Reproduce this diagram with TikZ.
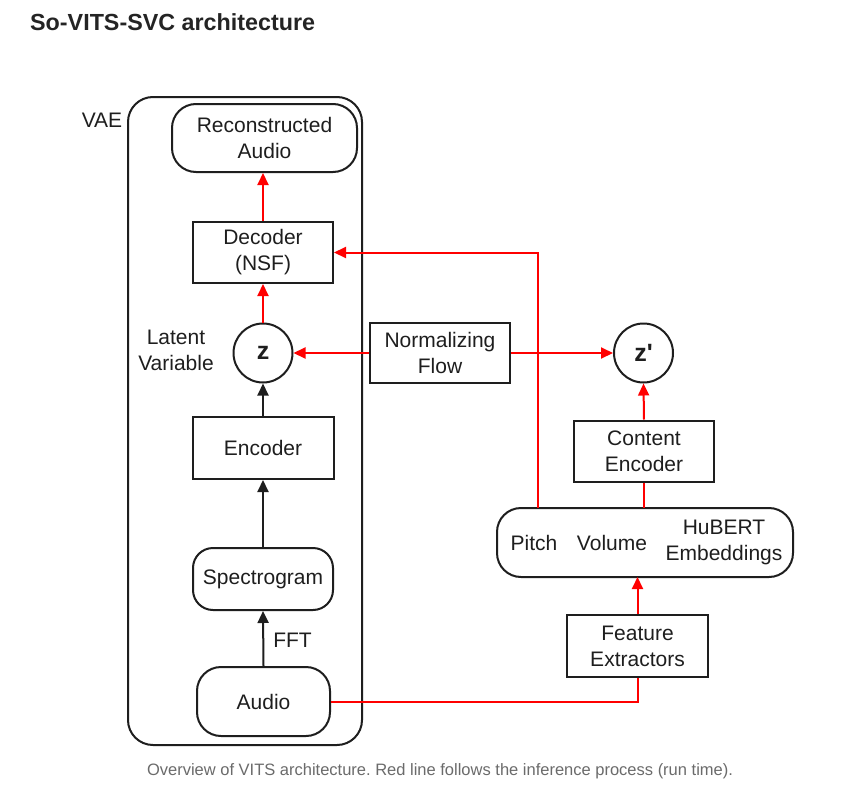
\documentclass[tikz,border=0pt]{standalone}
\usepackage{fontspec}
\setmainfont{Liberation Sans}
\usetikzlibrary{arrows.meta,positioning}
\definecolor{infred}{RGB}{255,0,0}
\definecolor{ink}{RGB}{30,30,30}
\definecolor{capgray}{RGB}{107,107,107}
\definecolor{titleink}{RGB}{36,36,36}
\frenchspacing
\begin{document}
\begin{tikzpicture}[x=1pt,y=-1pt,
  lbl/.style={font=\fontsize{21}{26}\selectfont, text=ink, align=center},
  sqbox/.style={lbl, draw=ink, line width=2pt, rectangle, inner sep=0pt},
  rbox/.style={lbl, draw=ink, line width=2pt, rectangle, rounded corners=24pt, inner sep=0pt},
  cnode/.style={lbl, draw=ink, line width=2pt, circle, minimum size=59pt, inner sep=0pt, font=\fontsize{25}{26}\selectfont\bfseries},
  redarrow/.style={draw=infred, line width=2pt, -{Triangle[length=12pt,width=11pt]}},
  redpath/.style={draw=infred, line width=2pt},
  blackarrow/.style={draw=ink, line width=2pt, -{Triangle[length=12pt,width=11pt]}},
  plain/.style={lbl, inner sep=0pt}
]
\useasboundingbox (0,0) rectangle (844,798);
\fill[white] (0,0) rectangle (844,798);

% title
\node[anchor=west, inner sep=0pt, text=titleink, font=\fontsize{23.3}{26}\selectfont\bfseries] (title) at (30,22) {So-VITS-SVC architecture};

% VAE container
\draw[draw=ink, line width=2pt, rounded corners=25pt] (128,97) rectangle (362,745);
\node[plain] (vae) at (102,120) {VAE};

% left column
\node[rbox, minimum width=185pt, minimum height=68pt] (recon) at (264.5,138) {Reconstructed\\Audio};
\node[sqbox, minimum width=140pt, minimum height=61pt] (dec) at (263,252.5) {Decoder\\(NSF)};
\node[cnode] (z) at (263,353) {z};
\node[plain] (latent) at (176,350) {Latent\\Variable};
\node[sqbox, minimum width=141pt, minimum height=62pt] (enc) at (263,448) {Encoder};
\node[rbox, rounded corners=20pt, minimum width=140pt, minimum height=62pt] (spec) at (263,579) {Spectrogram};
\node[rbox, minimum width=133pt, minimum height=69pt] (audio) at (263.5,701.5) {Audio};

% middle / right
\node[sqbox, minimum width=140pt, minimum height=60pt] (nf) at (440,353) {Normalizing\\Flow};
\node[cnode] (zp) at (643.5,353) {z\textquotesingle};
\node[sqbox, minimum width=140pt, minimum height=61pt] (ce) at (644,451) {Content\\Encoder};
\node[rbox, minimum width=296pt, minimum height=69pt] (pvh) at (645,542.5) {};
\node[plain] (pitch) at (534,543) {Pitch};
\node[plain] (volume) at (612,543) {Volume};
\node[plain] (hubert) at (724,542) {HuBERT\\Embeddings};
\node[sqbox, minimum width=141pt, minimum height=62pt] (fe) at (637.5,646) {Feature\\Extractors};

% coordinates for red path
\coordinate (pvhA) at (538,508);
\coordinate (bendA) at (538,252.5);
\coordinate (pvhB) at (644,508);
\coordinate (bendB) at (637.5,701.5);
\coordinate (pvhC) at (637.5,577);

% black arrows
\draw[blackarrow] (audio.north) -- node[right, plain, xshift=9pt, yshift=-2pt] (fft) {FFT} (spec.south);
\draw[blackarrow] (spec.north) -- (enc.south);
\draw[blackarrow] (enc.north) -- (z.south);

% red paths
\draw[redarrow] (z.north) -- (dec.south);
\draw[redarrow] (dec.north) -- (dec.north |- recon.south);
\draw[redarrow] (nf.west) -- (z.east);
\draw[redarrow] (nf.east) -- (zp.west);
\draw[redarrow] (ce.north) -- (zp.south);
\draw[redpath] (pvhB) -- (ce.south);
\draw[redarrow] (pvhA) -- (bendA) -- (dec.east);
\draw[redpath] (audio.east) -- (bendB) -- (fe.south);
\draw[redarrow] (fe.north) -- (pvhC);

% caption
\node[inner sep=0pt, text=capgray, font=\fontsize{16.5}{18}\selectfont] (caption) at (440,771) {Overview of VITS architecture. Red line follows the inference process (run time).};
\end{tikzpicture}
\end{document}
